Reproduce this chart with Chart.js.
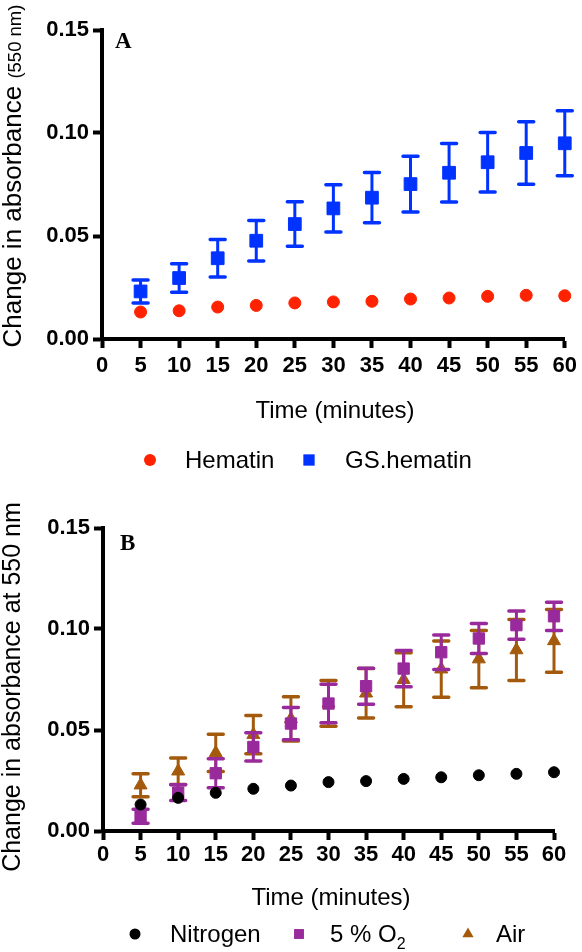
<!DOCTYPE html>
<html>
<head>
<meta charset="utf-8">
<script src="https://cdn.jsdelivr.net/npm/chart.js@4.4.1/dist/chart.umd.min.js"></script>
<style>
  body { margin: 0; background: #fff; }
  #wrap { position: relative; width: 582px; height: 952px; }
  canvas { position: absolute; left: 0; }
</style>
</head>
<body>
<div id="wrap">
  <canvas id="chartA" width="582" height="480" style="top:0"></canvas>
  <canvas id="chartB" width="582" height="472" style="top:480px"></canvas>
</div>
<script>
// time points (minutes)
const times = [5, 10, 15, 20, 25, 30, 35, 40, 45, 50, 55, 60];
const xTickValues = [0, 5, 10, 15, 20, 25, 30, 35, 40, 45, 50, 55, 60];
const yTickValues = [0, 0.05, 0.10, 0.15];

// panel A
const hematin = [0.0131, 0.0137, 0.0155, 0.0163, 0.0175, 0.0180, 0.0183, 0.0194, 0.0199, 0.0207, 0.0212, 0.0210];
const gsHematin = [0.0231, 0.0296, 0.0392, 0.0477, 0.0558, 0.0634, 0.0686, 0.0752, 0.0807, 0.0858, 0.0903, 0.0950];
const gsHematinErr = [0.0056, 0.0069, 0.0091, 0.0098, 0.0108, 0.0115, 0.0122, 0.0135, 0.0142, 0.0144, 0.0152, 0.0158];

// panel B
const nitrogen = [0.0131, 0.0164, 0.0189, 0.0209, 0.0225, 0.0242, 0.0247, 0.0258, 0.0266, 0.0276, 0.0283, 0.0291];
const o2 = [0.0073, 0.0190, 0.0286, 0.0416, 0.0532, 0.0631, 0.0717, 0.0804, 0.0885, 0.0953, 0.1019, 0.1063];
const o2Err = [0.0035, 0.0039, 0.0072, 0.0070, 0.0080, 0.0095, 0.0089, 0.0090, 0.0085, 0.0074, 0.0070, 0.0070];
const air = [0.0227, 0.0296, 0.0387, 0.0477, 0.0555, 0.0632, 0.0682, 0.0749, 0.0801, 0.0851, 0.0896, 0.0941];
const airErr = [0.0057, 0.0066, 0.0092, 0.0095, 0.0110, 0.0113, 0.0122, 0.0134, 0.0139, 0.0142, 0.0151, 0.0155];

const RED = '#ff2200';
const BLUE = '#0033ff';
const BLACK = '#000000';
const PURPLE = '#982a9c';
const BROWN = '#a35a0c';

const SANS = '"Liberation Sans", Arial, Helvetica, sans-serif';
const SERIF = '"Liberation Serif", "Times New Roman", serif';

Chart.defaults.font.family = SANS;
Chart.defaults.color = '#000';

const pts = (vals) => times.map((t, i) => ({ x: t, y: vals[i] }));

// vertical error bars with caps, drawn under each dataset's markers
const errorBars = {
  id: 'errorBars',
  beforeDatasetDraw(chart, args) {
    const ds = chart.data.datasets[args.index];
    if (!ds.errors) return;
    const xs = chart.scales.x, ys = chart.scales.y;
    const ctx = chart.ctx;
    const cap = 7.5;
    ctx.save();
    ctx.strokeStyle = ds.borderColor;
    ds.data.forEach((p, i) => {
      const e = ds.errors[i];
      const px = xs.getPixelForValue(p.x);
      const top = ys.getPixelForValue(p.y + e);
      const bot = ys.getPixelForValue(p.y - e);
      ctx.lineWidth = 3;
      ctx.lineCap = 'butt';
      ctx.beginPath();
      ctx.moveTo(px, top);
      ctx.lineTo(px, bot);
      ctx.stroke();
      ctx.lineWidth = 3.5;
      ctx.lineCap = 'round';
      ctx.beginPath();
      ctx.moveTo(px - cap, top); ctx.lineTo(px + cap, top);
      ctx.moveTo(px - cap, bot); ctx.lineTo(px + cap, bot);
      ctx.stroke();
    });
    ctx.restore();
  }
};

// panel letter, axis titles and legend row
const panelText = {
  id: 'panelText',
  afterDraw(chart, args, o) {
    const ctx = chart.ctx;
    ctx.save();
    ctx.fillStyle = '#000';

    ctx.font = 'bold 23px ' + SERIF;
    ctx.textAlign = 'left';
    ctx.textBaseline = 'alphabetic';
    ctx.fillText(o.letter, o.letterX, o.letterY);

    ctx.font = '24px ' + SANS;
    ctx.textAlign = 'center';
    ctx.fillText(o.xTitle, o.xTitleX, o.xTitleY);

    // rotated y title, possibly in parts of different size
    ctx.save();
    ctx.translate(o.yTitleX, o.yTitleY);
    ctx.rotate(-Math.PI / 2);
    ctx.textAlign = 'left';
    let total = 0;
    o.yTitle.forEach(p => {
      ctx.font = p.size + 'px ' + SANS;
      p.w = ctx.measureText(p.text).width;
      total += p.w;
    });
    let tx = -total / 2;
    o.yTitle.forEach(p => {
      ctx.font = p.size + 'px ' + SANS;
      ctx.fillText(p.text, tx, 0);
      tx += p.w;
    });
    ctx.restore();

    // legend
    chart.data.datasets.forEach((ds, i) => {
      const it = o.legend[i];
      ctx.fillStyle = ds.backgroundColor;
      ctx.strokeStyle = ds.backgroundColor;
      Chart.helpers.drawPoint(ctx, {
        pointStyle: ds.pointStyle, radius: it.r, rotation: 0, borderWidth: 0
      }, it.markerX, o.legendY - 8);
      ctx.fillStyle = '#000';
      ctx.textAlign = 'left';
      const parts = ds.label.split('₂');
      ctx.font = '24px ' + SANS;
      ctx.fillText(parts[0], it.textX, o.legendY);
      if (parts.length > 1) {
        const w = ctx.measureText(parts[0]).width;
        ctx.font = '16px ' + SANS;
        ctx.fillText('2', it.textX + w, o.legendY + 7);
      }
    });
    ctx.restore();
  }
};

function makeScales(yWidth, xHeight, xPad) {
  const tickFont = { size: 22, weight: 'bold' };
  return {
    x: {
      type: 'linear', min: 0, max: 60,
      afterBuildTicks: s => { s.ticks = xTickValues.map(v => ({ value: v })); },
      afterFit: s => { s.height = xHeight; },
      ticks: { font: tickFont, color: '#000', padding: xPad, maxRotation: 0, autoSkip: false },
      grid: { drawOnChartArea: false, tickLength: 9, tickWidth: 4, tickColor: '#000', color: '#000' },
      border: { color: '#000', width: 4 }
    },
    y: {
      type: 'linear', min: 0, max: 0.15,
      afterBuildTicks: s => { s.ticks = yTickValues.map(v => ({ value: v })); },
      afterFit: s => { s.width = yWidth; },
      ticks: { font: tickFont, color: '#000', padding: 4, callback: v => v.toFixed(2) },
      grid: { drawOnChartArea: false, tickLength: 9, tickWidth: 4, tickColor: '#000', color: '#000' },
      border: { color: '#000', width: 4 }
    }
  };
}

const common = {
  responsive: false,
  animation: false,
  devicePixelRatio: 1,
  events: []
};

new Chart(document.getElementById('chartA'), {
  type: 'scatter',
  data: {
    datasets: [
      { label: 'Hematin', data: pts(hematin), pointStyle: 'circle', pointRadius: 6,
        backgroundColor: RED, borderColor: RED, pointBorderWidth: 1, clip: false },
      { label: 'GS.hematin', data: pts(gsHematin), errors: gsHematinErr, pointStyle: 'rect', pointRadius: 9,
        backgroundColor: BLUE, borderColor: BLUE, pointBorderWidth: 1, clip: false }
    ]
  },
  options: Object.assign({}, common, {
    layout: { padding: { top: 30, right: 13, left: 0, bottom: 81 } },
    scales: makeScales(102, 60, 5),
    plugins: {
      legend: { display: false },
      tooltip: { enabled: false },
      panelText: {
        letter: 'A', letterX: 115, letterY: 48,
        xTitle: 'Time (minutes)', xTitleX: 335, xTitleY: 418,
        yTitle: [{ text: 'Change in absorbance ', size: 26 }, { text: '(550 nm)', size: 18.5 }],
        yTitleX: 21, yTitleY: 176,
        legendY: 468,
        legend: [{ markerX: 150, textX: 185, r: 6 }, { markerX: 309, textX: 345, r: 8 }]
      }
    }
  }),
  plugins: [errorBars, panelText]
});

new Chart(document.getElementById('chartB'), {
  type: 'scatter',
  data: {
    datasets: [
      { label: 'Nitrogen', data: pts(nitrogen), pointStyle: 'circle', pointRadius: 5.5,
        backgroundColor: BLACK, borderColor: BLACK, pointBorderWidth: 1, clip: false },
      { label: '5 % O₂', data: pts(o2), errors: o2Err, pointStyle: 'rect', pointRadius: 8,
        backgroundColor: PURPLE, borderColor: PURPLE, pointBorderWidth: 1, clip: false },
      { label: 'Air', data: pts(air), errors: airErr, pointStyle: 'triangle', pointRadius: 7.5,
        backgroundColor: BROWN, borderColor: BROWN, pointBorderWidth: 1, clip: false }
    ]
  },
  options: Object.assign({}, common, {
    layout: { padding: { top: 48, right: 28, left: 0, bottom: 71 } },
    scales: makeScales(103, 50, 2),
    plugins: {
      legend: { display: false },
      tooltip: { enabled: false },
      panelText: {
        letter: 'B', letterX: 120, letterY: 70,
        xTitle: 'Time (minutes)', xTitleX: 331, xTitleY: 425,
        yTitle: [{ text: 'Change in absorbance at 550 nm', size: 25 }],
        yTitleX: 20, yTitleY: 207,
        legendY: 462,
        legend: [{ markerX: 135, textX: 170, r: 5.5 }, { markerX: 299, textX: 330, r: 7 }, { markerX: 468, textX: 496, r: 6.5 }]
      }
    }
  }),
  plugins: [errorBars, panelText]
});
</script>
</body>
</html>
